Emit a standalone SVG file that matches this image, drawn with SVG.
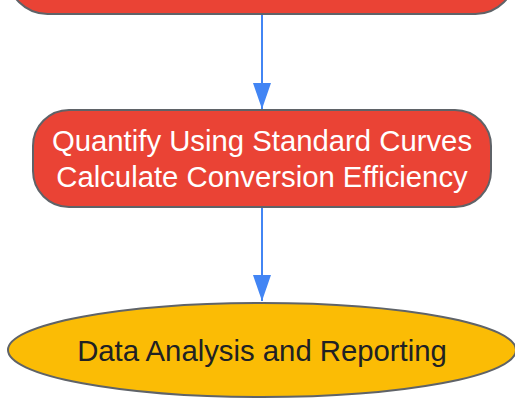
<svg xmlns="http://www.w3.org/2000/svg" width="515" height="400" viewBox="0 0 515 400">
<defs>
<style>
.proc{fill:#EA4335;stroke:#5F6368;stroke-width:2}
.term{fill:#FBBC05;stroke:#5F6368;stroke-width:2}
.wt{font-family:"Liberation Sans",Arial,sans-serif;font-size:29.3px;fill:#ffffff;text-anchor:middle}
.dt{font-family:"Liberation Sans",Arial,sans-serif;font-size:29.3px;fill:#202124;text-anchor:middle}
.edge{stroke:#4285F4;stroke-width:2;fill:none}
</style>
<marker id="ah" viewBox="0 0 26 18" refX="26" refY="9" markerWidth="26" markerHeight="18" markerUnits="userSpaceOnUse" orient="auto">
<path d="M0,0 L26,9 L0,18 Z" fill="#4285F4"/>
</marker>
</defs>
<rect width="515" height="400" fill="#ffffff"/>
<g id="connectors">
<path class="edge" d="M262,14 L262,109" marker-end="url(#ah)"/>
<path class="edge" d="M262,207 L262,301" marker-end="url(#ah)"/>
</g>
<g id="node-prev">
<rect class="proc" x="7.5" y="-86" width="508" height="100" rx="40" ry="40"/>
</g>
<g id="node-quantify">
<rect class="proc" x="33" y="110" width="458" height="97" rx="36" ry="36"/>
<text class="wt" x="262" y="151">Quantify Using Standard Curves</text>
<text class="wt" x="262" y="187">Calculate Conversion Efficiency</text>
</g>
<g id="node-report">
<ellipse class="term" cx="262" cy="350" rx="254" ry="47"/>
<text class="dt" x="262" y="361">Data Analysis and Reporting</text>
</g>
</svg>
